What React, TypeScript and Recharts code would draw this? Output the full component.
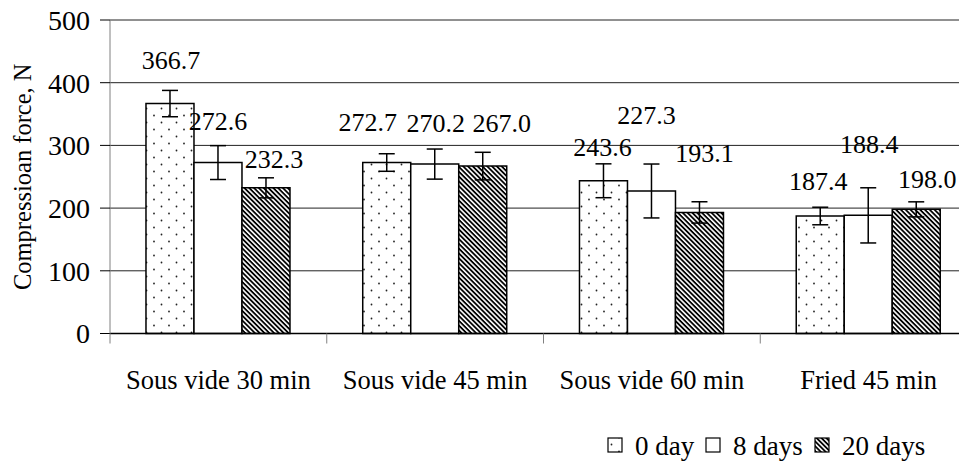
import React from 'react';
import { BarChart, Bar, XAxis, YAxis, CartesianGrid, ErrorBar, LabelList } from 'recharts';

// ---- data ----
const categories = ['Sous vide 30 min', 'Sous vide 45 min', 'Sous vide 60 min', 'Fried 45 min'];
const day0 = [366.7, 272.7, 243.6, 187.4];
const day8 = [272.6, 270.2, 227.3, 188.4];
const day20 = [232.3, 267.0, 193.1, 198.0];
const err0 = [21, 14, 27, 14];
const err8 = [27, 24, 43, 44];
const err20 = [16, 22, 17, 12];
const yTicks = [0, 100, 200, 300, 400, 500];
const seriesNames = ['0 day', '8 days', '20 days'];
const yTitle = 'Compressioan force, N';

const data = categories.map((c, i) => ({
  cat: c,
  d0: day0[i],
  d8: day8[i],
  d20: day20[i],
  e0: err0[i],
  e8: err8[i],
  e20: err20[i],
}));

// ---- layout / style ----
const FONT = 'Liberation Serif, Times New Roman, serif';
const CHART_W = 983;
const CHART_H = 462;
const MARGIN = { top: 20, right: 6, left: 0, bottom: 68.5 };
const Y_AXIS_W = 110;
const PLOT_W = CHART_W - MARGIN.left - MARGIN.right - Y_AXIS_W;
const BAND = PLOT_W / categories.length;

// manual nudges of data labels (pixels, relative to bar top centre)
const nudge0 = { dx: [1, -19, -1, -2], dy: [-43.6, -40, -33.8, -35] };
const nudge8 = { dx: [0, 1, -5, 1], dy: [-41.6, -41, -76, -71.4] };
const nudge20 = { dx: [8, 19, 5, 11], dy: [-28.8, -43, -59.4, -30.4] };

const makeLabel = (n: { dx: number[]; dy: number[] }) => (props: any) => {
  const { x, y, width, value, index } = props;
  const i = Number(index) || 0;
  const cx = Number(x) + Number(width) / 2 + (n.dx[i] || 0);
  const cy = Number(y) + (n.dy[i] || 0);
  return (
    <text x={cx} y={cy + 8.6} textAnchor="middle" fontSize={26} fontFamily={FONT} fill="#000">
      {Number(value).toFixed(1)}
    </text>
  );
};

const XTick = (props: any) => {
  const { x, y, payload, index } = props;
  const half = BAND / 2;
  return (
    <g>
      <line x1={x - half} x2={x - half} y1={y} y2={y + 10} stroke="#808080" strokeWidth={1} />
      {index === categories.length - 1 && (
        <line x1={x + half} x2={x + half} y1={y} y2={y + 10} stroke="#808080" strokeWidth={1} />
      )}
      <text x={x} y={y + 55.5} textAnchor="middle" fontSize={26.5} fontFamily={FONT} fill="#000">
        {payload.value}
      </text>
    </g>
  );
};

const YLabel = (props: any) => {
  const vb = props.viewBox || { x: 0, y: MARGIN.top, width: Y_AXIS_W, height: 313.5 };
  const cx = vb.x + 22;
  const cy = vb.y + vb.height / 2;
  return (
    <text
      x={cx}
      y={cy}
      transform={`rotate(-90, ${cx}, ${cy})`}
      textAnchor="middle"
      dominantBaseline="central"
      fontSize={24.5}
      fontFamily={FONT}
      fill="#000"
    >
      {yTitle}
    </text>
  );
};

const fills = ['url(#dots)', '#ffffff', 'url(#hatch)'];

const Patterns = () => (
  <defs>
    <pattern id="dots" patternUnits="userSpaceOnUse" width={15} height={14}>
      <rect width={15} height={14} fill="#fff" />
      <circle cx={4} cy={3.5} r={0.9} fill="#222" />
      <circle cx={11.5} cy={10.5} r={0.9} fill="#222" />
    </pattern>
    <pattern id="hatch" patternUnits="userSpaceOnUse" width={3.4} height={3.4} patternTransform="rotate(45)">
      <rect width={3.4} height={3.4} fill="#fff" />
      <rect width={3.4} height={1.8} fill="#000" />
    </pattern>
  </defs>
);

const Legend = () => {
  const items = [
    { icon: 608, text: 635 },
    { icon: 706, text: 733 },
    { icon: 815, text: 842 },
  ];
  return (
    <svg width={967} height={462} style={{ position: 'absolute', left: 0, top: 0, pointerEvents: 'none' }}>
      {seriesNames.map((name, i) => (
        <g key={name}>
          <rect x={items[i].icon} y={438} width={14} height={14} fill={fills[i]} stroke="#000" strokeWidth={1.2} />
          <text x={items[i].text} y={455} fontSize={27} fontFamily={FONT} fill="#000">
            {name}
          </text>
        </g>
      ))}
    </svg>
  );
};

if (typeof document !== 'undefined') {
  document.body.style.overflow = 'hidden';
}

export default function App() {
  return (
    <div
      style={{
        position: 'relative',
        width: 967,
        height: 462,
        marginTop: -8,
        marginLeft: -8,
        overflow: 'hidden',
        background: '#fff',
      }}
    >
      <BarChart width={CHART_W} height={CHART_H} data={data} margin={MARGIN} barCategoryGap="16.6%" barGap={0}>
        <Patterns />
        <CartesianGrid vertical={false} stroke="#222" strokeWidth={1} />
        <XAxis
          dataKey="cat"
          height={60}
          axisLine={{ stroke: '#000', strokeWidth: 1.5 }}
          tickLine={false}
          tickSize={0}
          tickMargin={0}
          interval={0}
          tick={<XTick />}
        />
        <YAxis
          width={Y_AXIS_W}
          domain={[0, 500]}
          ticks={yTicks}
          interval={0}
          axisLine={{ stroke: '#808080', strokeWidth: 1 }}
          tickLine={{ stroke: '#000', strokeWidth: 1 }}
          tickSize={10}
          tickMargin={10}
          tick={{ fontSize: 28, fontFamily: FONT, fill: '#000' }}
          label={<YLabel />}
        />
        <Bar dataKey="d0" name={seriesNames[0]} fill={fills[0]} stroke="#000" strokeWidth={1.5} isAnimationActive={false}>
          <ErrorBar dataKey="e0" width={8} stroke="#000" strokeWidth={1.5} direction="y" />
          <LabelList dataKey="d0" content={makeLabel(nudge0)} />
        </Bar>
        <Bar dataKey="d8" name={seriesNames[1]} fill={fills[1]} stroke="#000" strokeWidth={1.5} isAnimationActive={false}>
          <ErrorBar dataKey="e8" width={8} stroke="#000" strokeWidth={1.5} direction="y" />
          <LabelList dataKey="d8" content={makeLabel(nudge8)} />
        </Bar>
        <Bar dataKey="d20" name={seriesNames[2]} fill={fills[2]} stroke="#000" strokeWidth={1.5} isAnimationActive={false}>
          <ErrorBar dataKey="e20" width={8} stroke="#000" strokeWidth={1.5} direction="y" />
          <LabelList dataKey="d20" content={makeLabel(nudge20)} />
        </Bar>
      </BarChart>
      <Legend />
    </div>
  );
}
